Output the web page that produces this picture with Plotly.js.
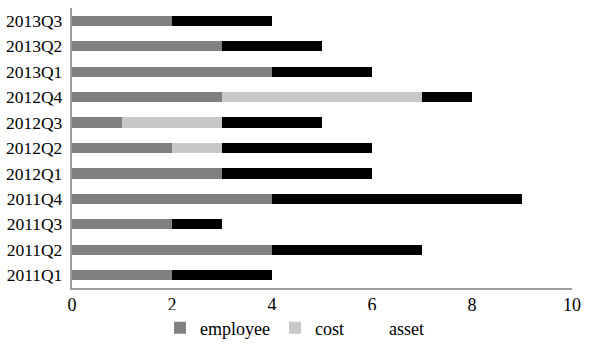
<!DOCTYPE html>
<html><head><meta charset="utf-8">
<script src="https://cdn.plot.ly/plotly-3.0.1.min.js"></script>
<style>html,body{margin:0;padding:0;background:#fff}#c{width:589px;height:349px}</style>
</head><body><div id="c"></div>
<script>
const categories = ['2011Q1','2011Q2','2011Q3','2011Q4','2012Q1','2012Q2','2012Q3','2012Q4','2013Q1','2013Q2','2013Q3'];
const employee = [2,4,2,4,3,2,1,3,4,3,2];
const cost     = [0,0,0,0,0,1,2,4,0,0,0];
const asset    = [2,3,1,5,3,3,2,1,2,2,2];
const xTicks = [0,2,4,6,8,10];

const FONT = 'Liberation Serif';
const traces = [
  {type:'bar', orientation:'h', name:'employee', y:categories, x:employee, marker:{color:'#808080'}},
  {type:'bar', orientation:'h', name:'cost', y:categories, x:cost, marker:{color:'#c8c8c8'}},
  {type:'bar', orientation:'h', name:'asset', y:categories, x:asset, marker:{color:'#000000'}, showlegend:false, legendgroup:'a'},
  {type:'bar', orientation:'h', name:'asset', y:[null], x:[null], marker:{color:'rgba(0,0,0,0)'}, legendgroup:'a'}
];
const layout = {
  width:589, height:349,
  margin:{l:72, r:17, t:8, b:61, autoexpand:false},
  barmode:'stack', bargap:0.6,
  paper_bgcolor:'#fff', plot_bgcolor:'#fff',
  font:{family:FONT, size:18},
  xaxis:{range:[0,10], tickvals:xTicks, showgrid:false, zeroline:false, showline:true, linecolor:'#a0a0a0', linewidth:1.5, ticks:'', automargin:false, tickfont:{family:FONT, size:18, color:'#000'}},
  yaxis:{type:'category', categoryarray:categories, showgrid:false, zeroline:false, showline:true, linecolor:'#a0a0a0', linewidth:1.5, ticks:'', ticksuffix:' ', automargin:false, tickfont:{family:FONT, size:17.5, color:'#000'}},
  legend:{orientation:'h', xref:'container', yref:'container', x:0.5, xanchor:'center', y:0.06, yanchor:'middle', font:{family:FONT, size:18, color:'#000'}, traceorder:'normal'},
  showlegend:true
};
Plotly.newPlot('c', traces, layout, {displayModeBar:false});
</script></body></html>
